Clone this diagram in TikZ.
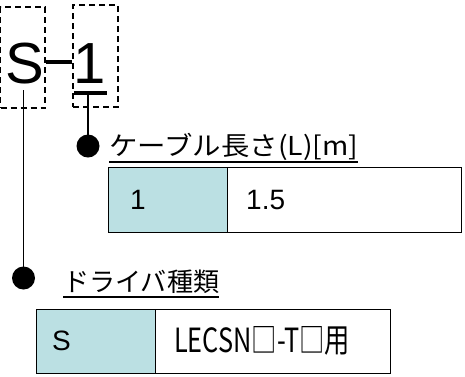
\documentclass[tikz,border=0pt]{standalone}
\usepackage{fontspec}
\setmainfont{Liberation Sans}
\newfontfamily\jpfont{Noto Sans CJK JP}
\definecolor{cellblue}{RGB}{187,224,227}
\begin{document}
\begin{tikzpicture}[x=1pt,y=-1pt,
  dashbox/.style={draw,line width=1.8pt,dash pattern=on 6pt off 4pt,minimum width=#1,inner sep=0pt},
  bigtxt/.style={font=\fontsize{58}{60}\selectfont,inner sep=0pt,anchor=base},
  lbl/.style={font=\jpfont\fontsize{26}{28}\selectfont,inner sep=0pt,anchor=base west},
  cellkey/.style={draw,line width=1.3pt,fill=cellblue,anchor=north west,inner sep=0pt},
  cellval/.style={draw,line width=1.3pt,anchor=north west,inner sep=0pt},
  celltxt/.style={font=\fontsize{28}{30}\selectfont,inner sep=0pt,anchor=west},
  conn/.style={line width=1.8pt},
  dot/.style={circle,fill=black,minimum size=23pt,inner sep=0pt}]
\useasboundingbox (0,0) rectangle (465,376);
% dashed boxes
\node[dashbox=44.5pt,minimum height=101pt] (sbox) at (22.8,57.5) {};
\node[dashbox=45pt,minimum height=102pt] (obox) at (95.5,56) {};
% big letters
\node[bigtxt] (S) at (25,83) {S};
\node[bigtxt] (one) at (90,83) {1};
% hyphen connector
\draw[line width=4pt] (sbox.east |- 0,62) -- (obox.west |- 0,62);
% underline under 1
\coordinate (ul1) at (74,93);
\coordinate (ul2) at (107,93);
\draw[line width=3.5pt] (ul1) -- (ul2);
% dots
\node[dot] (dot1) at (88,146) {};
\node[dot] (dot2) at (23.5,278) {};
\coordinate (top1) at (88,93);
\coordinate (topS) at (23.5,90);
\draw[conn] (top1) -- (dot1.center);
\draw[conn] (topS) -- (dot2.center);
% labels
\node[lbl] (lab1) at (109,155) {\resizebox{249pt}{\height}{ケーブル長さ(L)[m]}};
\draw[line width=2pt] (109,162) -- (358,162);
\node[lbl] (lab2) at (63,291) {\resizebox{156pt}{\height}{ドライバ種類}};
\draw[line width=2pt] (63,297) -- (219,297);
% top table
\node[cellkey,minimum width=119pt,minimum height=65pt] (k1) at (108,167) {};
\node[cellval,minimum width=234pt,minimum height=65pt] (v1) at (227,167) {};
\node[celltxt] (k1t) at (130,200) {1};
\node[celltxt] (v1t) at (246,200) {1.5};
% bottom table
\node[cellkey,minimum width=119pt,minimum height=64pt] (k2) at (36,309) {};
\node[cellval,minimum width=235pt,minimum height=64pt] (v2) at (155,309) {};
\node[celltxt] (k2t) at (52,341) {S};
\node[font=\jpfont\fontsize{32}{34}\selectfont,inner sep=0pt,anchor=base west] (v2t) at (174,352) {\resizebox{176pt}{26pt}{LECSN□-T□用}};
\end{tikzpicture}
\end{document}
